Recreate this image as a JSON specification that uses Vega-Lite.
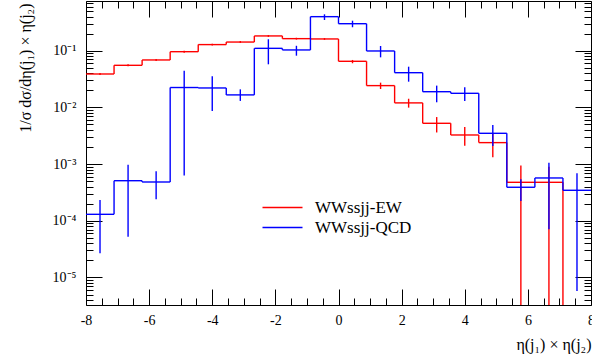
{
  "$schema": "https://vega.github.io/schema/vega-lite/v6.json",
  "width": 505,
  "height": 304,
  "autosize": {"type": "none"},
  "padding": {"left": 86, "top": 1, "right": 1, "bottom": 58},
  "background": "white",
  "config": {
    "view": {"stroke": null},
    "axis": {"grid": false, "labelFont": "Liberation Serif", "labelFontSize": 14, "labelColor": "#000", "tickColor": "#000", "domainColor": "#000", "tickWidth": 1, "domainWidth": 1, "titleFont": "Liberation Serif", "titleFontWeight": "normal", "titleColor": "#000"},
    "legend": {"labelFont": "Liberation Serif", "labelFontSize": 17, "labelColor": "#000"}
  },
  "data": {"values": [
    {"series": "WWssjj-EW", "x0": -8, "x1": -7.111, "xc": -7.556, "y": 0.0388, "ylo": 0.0372, "yhi": 0.0404},
    {"series": "WWssjj-EW", "x0": -7.111, "x1": -6.222, "xc": -6.667, "y": 0.0552, "ylo": 0.053, "yhi": 0.0575},
    {"series": "WWssjj-EW", "x0": -6.222, "x1": -5.333, "xc": -5.778, "y": 0.0686, "ylo": 0.066, "yhi": 0.0712},
    {"series": "WWssjj-EW", "x0": -5.333, "x1": -4.444, "xc": -4.889, "y": 0.096, "ylo": 0.092, "yhi": 0.1},
    {"series": "WWssjj-EW", "x0": -4.444, "x1": -3.556, "xc": -4, "y": 0.128, "ylo": 0.123, "yhi": 0.133},
    {"series": "WWssjj-EW", "x0": -3.556, "x1": -2.667, "xc": -3.111, "y": 0.142, "ylo": 0.137, "yhi": 0.148},
    {"series": "WWssjj-EW", "x0": -2.667, "x1": -1.778, "xc": -2.222, "y": 0.182, "ylo": 0.175, "yhi": 0.189},
    {"series": "WWssjj-EW", "x0": -1.778, "x1": -0.889, "xc": -1.333, "y": 0.163, "ylo": 0.157, "yhi": 0.169},
    {"series": "WWssjj-EW", "x0": -0.889, "x1": 0, "xc": -0.444, "y": 0.161, "ylo": 0.155, "yhi": 0.167},
    {"series": "WWssjj-EW", "x0": 0, "x1": 0.889, "xc": 0.444, "y": 0.065, "ylo": 0.06, "yhi": 0.0686},
    {"series": "WWssjj-EW", "x0": 0.889, "x1": 1.778, "xc": 1.333, "y": 0.0242, "ylo": 0.0211, "yhi": 0.0273},
    {"series": "WWssjj-EW", "x0": 1.778, "x1": 2.667, "xc": 2.222, "y": 0.012, "ylo": 0.0099, "yhi": 0.0142},
    {"series": "WWssjj-EW", "x0": 2.667, "x1": 3.556, "xc": 3.111, "y": 0.00524, "ylo": 0.00361, "yhi": 0.00675},
    {"series": "WWssjj-EW", "x0": 3.556, "x1": 4.444, "xc": 4, "y": 0.00326, "ylo": 0.00211, "yhi": 0.00451},
    {"series": "WWssjj-EW", "x0": 4.444, "x1": 5.333, "xc": 4.889, "y": 0.00239, "ylo": 0.00132, "yhi": 0.0035},
    {"series": "WWssjj-EW", "x0": 5.333, "x1": 6.222, "xc": 5.778, "y": 0.000477, "ylo": 0.000001, "yhi": 0.00094},
    {"series": "WWssjj-EW", "x0": 6.222, "x1": 7.111, "xc": 6.667, "y": 0.000477, "ylo": 0.000001, "yhi": 0.0009},
    {"series": "WWssjj-EW", "x0": 7.111, "x1": 8, "xc": 7.556, "y": 0.0000001, "ylo": 0.0000001, "yhi": 0.0000001},
    {"series": "WWssjj-QCD", "x0": -8, "x1": -7.111, "xc": -7.556, "y": 0.00013, "ylo": 0.0000267, "yhi": 0.000233},
    {"series": "WWssjj-QCD", "x0": -7.111, "x1": -6.222, "xc": -6.667, "y": 0.000509, "ylo": 0.0000525, "yhi": 0.000975},
    {"series": "WWssjj-QCD", "x0": -6.222, "x1": -5.333, "xc": -5.778, "y": 0.000483, "ylo": 0.000239, "yhi": 0.000746},
    {"series": "WWssjj-QCD", "x0": -5.333, "x1": -4.444, "xc": -4.889, "y": 0.0224, "ylo": 0.00063, "yhi": 0.0444},
    {"series": "WWssjj-QCD", "x0": -4.444, "x1": -3.556, "xc": -4, "y": 0.022, "ylo": 0.00865, "yhi": 0.0353},
    {"series": "WWssjj-QCD", "x0": -3.556, "x1": -2.667, "xc": -3.111, "y": 0.0166, "ylo": 0.013, "yhi": 0.0208},
    {"series": "WWssjj-QCD", "x0": -2.667, "x1": -1.778, "xc": -2.222, "y": 0.11, "ylo": 0.0575, "yhi": 0.159},
    {"series": "WWssjj-QCD", "x0": -1.778, "x1": -0.889, "xc": -1.333, "y": 0.103, "ylo": 0.0816, "yhi": 0.122},
    {"series": "WWssjj-QCD", "x0": -0.889, "x1": 0, "xc": -0.444, "y": 0.398, "ylo": 0.348, "yhi": 0.438},
    {"series": "WWssjj-QCD", "x0": 0, "x1": 0.889, "xc": 0.444, "y": 0.299, "ylo": 0.259, "yhi": 0.338},
    {"series": "WWssjj-QCD", "x0": 0.889, "x1": 1.778, "xc": 1.333, "y": 0.0988, "ylo": 0.0763, "yhi": 0.121},
    {"series": "WWssjj-QCD", "x0": 1.778, "x1": 2.667, "xc": 2.222, "y": 0.0409, "ylo": 0.0284, "yhi": 0.0522},
    {"series": "WWssjj-QCD", "x0": 2.667, "x1": 3.556, "xc": 3.111, "y": 0.0189, "ylo": 0.0123, "yhi": 0.0242},
    {"series": "WWssjj-QCD", "x0": 3.556, "x1": 4.444, "xc": 4, "y": 0.0177, "ylo": 0.013, "yhi": 0.0226},
    {"series": "WWssjj-QCD", "x0": 4.444, "x1": 5.333, "xc": 4.889, "y": 0.00349, "ylo": 0.00208, "yhi": 0.0049},
    {"series": "WWssjj-QCD", "x0": 5.333, "x1": 6.222, "xc": 5.778, "y": 0.00039, "ylo": 0.000223, "yhi": 0.00054},
    {"series": "WWssjj-QCD", "x0": 6.222, "x1": 7.111, "xc": 6.667, "y": 0.000569, "ylo": 0.0000708, "yhi": 0.00106},
    {"series": "WWssjj-QCD", "x0": 7.111, "x1": 8, "xc": 7.556, "y": 0.000345, "ylo": 0.0000058, "yhi": 0.00069}
  ]},
  "resolve": {"axis": {"x": "independent", "y": "independent"}},
  "layer": [
    {
      "transform": [{"filter": "datum.series === 'WWssjj-EW'"}],
      "mark": {"type": "rule", "strokeWidth": 1.4, "clip": true},
      "encoding": {
        "x": {"field": "x0", "type": "quantitative", "scale": {"domain": [-8, 8], "nice": false, "zero": false},
          "axis": {"orient": "bottom", "values": [-8, -6, -4, -2, 0, 2, 4, 6, 8], "tickSize": -16, "labelPadding": 24, "labelExpr": "'' + datum.value", "labelFlush": false, "labelOverlap": false, "title": "η(j₁) × η(j₂)", "titleFontSize": 16, "titleAnchor": "end", "titleAlign": "right", "titleBaseline": "alphabetic", "titleX": 505, "titleY": 44}},
        "x2": {"field": "x1"},
        "y": {"field": "y", "type": "quantitative", "scale": {"type": "log", "domain": [0.00000327, 0.752], "nice": false},
          "axis": {"orient": "left", "values": [0.00001, 0.0001, 0.001, 0.01, 0.1], "tickSize": -16, "labelPadding": 26, "labelExpr": "datum.value > 0.05 ? '10⁻¹' : datum.value > 0.005 ? '10⁻²' : datum.value > 0.0005 ? '10⁻³' : datum.value > 0.00005 ? '10⁻⁴' : '10⁻⁵'", "labelOverlap": false, "labelBaseline": "middle", "title": "1/σ dσ/dη(j₁) × η(j₂)", "titleFontSize": 16, "titleAnchor": "end", "titleAlign": "right", "titleBaseline": "middle", "titleAngle": -90, "titleX": -61, "titleY": 2}},
        "color": {"field": "series", "type": "nominal", "scale": {"domain": ["WWssjj-EW", "WWssjj-QCD"], "range": ["#ff0000", "#0000ff"]},
          "legend": {"orient": "none", "legendX": 188, "legendY": 198, "title": null, "symbolType": "M-4,0H4", "symbolSize": 100, "symbolStrokeWidth": 1.3, "labelOffset": 24, "rowPadding": 2, "padding": 0}}
      }
    },
    {
      "transform": [{"filter": "datum.series === 'WWssjj-EW'"}, {"window": [{"op": "lag", "field": "y", "as": "yprev"}], "sort": [{"field": "x0", "order": "ascending"}]}],
      "mark": {"type": "rule", "strokeWidth": 1.4, "clip": true},
      "encoding": {
        "x": {"field": "x0", "type": "quantitative",
          "axis": {"orient": "bottom", "values": [-7.5, -7, -6.5, -5.5, -5, -4.5, -3.5, -3, -2.5, -1.5, -1, -0.5, 0.5, 1, 1.5, 2.5, 3, 3.5, 4.5, 5, 5.5, 6.5, 7, 7.5], "tickSize": -7, "labels": false, "domain": false, "title": null}},
        "y": {"field": "yprev", "type": "quantitative",
          "axis": {"orient": "left", "values": [0.000004, 0.000005, 0.000006, 0.000007, 0.000008, 0.000009, 0.00002, 0.00003, 0.00004, 0.00005, 0.00006, 0.00007, 0.00008, 0.00009, 0.0002, 0.0003, 0.0004, 0.0005, 0.0006, 0.0007, 0.0008, 0.0009, 0.002, 0.003, 0.004, 0.005, 0.006, 0.007, 0.008, 0.009, 0.02, 0.03, 0.04, 0.05, 0.06, 0.07, 0.08, 0.09, 0.2, 0.3, 0.4, 0.5, 0.6, 0.7], "tickSize": -7, "labels": false, "domain": false, "title": null}},
        "y2": {"field": "y"},
        "color": {"field": "series", "type": "nominal"}
      }
    },
    {
      "transform": [{"filter": "datum.series === 'WWssjj-EW'"}],
      "mark": {"type": "rule", "strokeWidth": 1.4, "clip": true},
      "encoding": {
        "x": {"field": "xc", "type": "quantitative",
          "axis": {"orient": "top", "values": [-8, -6, -4, -2, 0, 2, 4, 6, 8], "tickSize": -16, "labels": false, "domain": true, "title": null}},
        "y": {"field": "ylo", "type": "quantitative",
          "axis": {"orient": "right", "values": [0.00001, 0.0001, 0.001, 0.01, 0.1], "tickSize": -16, "labels": false, "domain": true, "title": null}},
        "y2": {"field": "yhi"},
        "color": {"field": "series", "type": "nominal"}
      }
    },
    {
      "transform": [{"filter": "datum.series === 'WWssjj-QCD'"}],
      "mark": {"type": "rule", "strokeWidth": 1.4, "clip": true},
      "encoding": {
        "x": {"field": "x0", "type": "quantitative",
          "axis": {"orient": "top", "values": [-7.5, -7, -6.5, -5.5, -5, -4.5, -3.5, -3, -2.5, -1.5, -1, -0.5, 0.5, 1, 1.5, 2.5, 3, 3.5, 4.5, 5, 5.5, 6.5, 7, 7.5], "tickSize": -7, "labels": false, "domain": false, "title": null}},
        "x2": {"field": "x1"},
        "y": {"field": "y", "type": "quantitative",
          "axis": {"orient": "right", "values": [0.000004, 0.000005, 0.000006, 0.000007, 0.000008, 0.000009, 0.00002, 0.00003, 0.00004, 0.00005, 0.00006, 0.00007, 0.00008, 0.00009, 0.0002, 0.0003, 0.0004, 0.0005, 0.0006, 0.0007, 0.0008, 0.0009, 0.002, 0.003, 0.004, 0.005, 0.006, 0.007, 0.008, 0.009, 0.02, 0.03, 0.04, 0.05, 0.06, 0.07, 0.08, 0.09, 0.2, 0.3, 0.4, 0.5, 0.6, 0.7], "tickSize": -7, "labels": false, "domain": false, "title": null}},
        "color": {"field": "series", "type": "nominal"}
      }
    },
    {
      "transform": [{"filter": "datum.series === 'WWssjj-QCD'"}, {"window": [{"op": "lag", "field": "y", "as": "yprev"}], "sort": [{"field": "x0", "order": "ascending"}]}],
      "mark": {"type": "rule", "strokeWidth": 1.4, "clip": true},
      "encoding": {
        "x": {"field": "x0", "type": "quantitative", "axis": null},
        "y": {"field": "yprev", "type": "quantitative", "axis": null},
        "y2": {"field": "y"},
        "color": {"field": "series", "type": "nominal"}
      }
    },
    {
      "transform": [{"filter": "datum.series === 'WWssjj-QCD'"}],
      "mark": {"type": "rule", "strokeWidth": 1.4, "clip": true},
      "encoding": {
        "x": {"field": "xc", "type": "quantitative", "axis": null},
        "y": {"field": "ylo", "type": "quantitative", "axis": null},
        "y2": {"field": "yhi"},
        "color": {"field": "series", "type": "nominal"}
      }
    }
  ]
}
